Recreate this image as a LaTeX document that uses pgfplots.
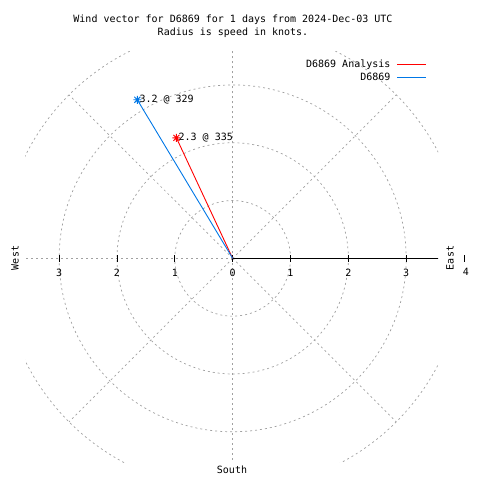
\documentclass[border=0pt]{standalone}
\usepackage{fontspec}
\setmainfont{DejaVu Sans Mono}
\usepackage{pgfplots}
\pgfplotsset{compat=1.18}
\definecolor{vred}{RGB}{255,0,0}
\definecolor{vblue}{RGB}{0,119,230}
\definecolor{grd}{RGB}{160,160,160}
\pgfdeclareplotmark{gstar}{%
  \pgfpathmoveto{\pgfqpoint{-\pgfplotmarksize}{0pt}}\pgfpathlineto{\pgfqpoint{\pgfplotmarksize}{0pt}}%
  \pgfpathmoveto{\pgfqpoint{0pt}{-\pgfplotmarksize}}\pgfpathlineto{\pgfqpoint{0pt}{\pgfplotmarksize}}%
  \pgfpathmoveto{\pgfqpoint{-0.75\pgfplotmarksize}{-0.75\pgfplotmarksize}}\pgfpathlineto{\pgfqpoint{0.75\pgfplotmarksize}{0.75\pgfplotmarksize}}%
  \pgfpathmoveto{\pgfqpoint{-0.75\pgfplotmarksize}{0.75\pgfplotmarksize}}\pgfpathlineto{\pgfqpoint{0.75\pgfplotmarksize}{-0.75\pgfplotmarksize}}%
  \pgfusepathqstroke}
\begin{document}
\fontsize{10bp}{12bp}\selectfont
\begin{tikzpicture}
\useasboundingbox (0bp,0bp) rectangle (480bp,480bp);
\node[inner sep=0] at (233bp,460bp) {Wind vector for D6869 for 1 days from 2024-Dec-03 UTC};
\node[inner sep=0] at (233bp,447bp) {Radius is speed in knots.};
\node[inner sep=0,rotate=90] at (450bp,222bp) {East};
\node[inner sep=0,rotate=90] at (15bp,222bp) {West};
\node[inner sep=0] at (232bp,10bp) {South};
\draw[line width=0.8bp] (464bp,218bp) -- (464bp,225bp);
\node[inner sep=0] at (466bp,208bp) {4};
\begin{axis}[
  at={(25bp,17bp)}, anchor=south west,
  scale only axis, width=413bp, height=411bp,
  xmin=-3.59, xmax=3.55, ymin=-3.54, ymax=3.57,
  axis lines=none, clip=true,
  legend plot pos=right,
  legend cell align=right,
  legend style={at={(rel axis cs:1,1)}, anchor=north east, xshift=-11bp, yshift=-6bp,
    draw=none, fill=none, inner sep=0pt, font=\fontsize{10bp}{12bp}\selectfont,
    column sep=5bp, row sep=1bp,
    nodes={inner sep=1.5bp}},
  legend image code/.code={\draw[#1] (0bp,0bp) -- (29bp,0bp);},
]
% grid
\pgfplotsinvokeforeach{1,2,3,4}{
  \draw[grd, line width=0.7bp, dash pattern=on 2bp off 3bp] (axis cs:0,0) circle[radius=#1];
}
\pgfplotsinvokeforeach{45,90,135,180,225,270,315}{
  \draw[grd, line width=0.7bp, dash pattern=on 2bp off 3bp] (axis cs:0,0) -- (axis cs:{4*cos(#1)},{4*sin(#1)});
}
\draw[black, line width=1bp] (axis cs:0,0) -- (axis cs:4,0);
\pgfplotsinvokeforeach{-3,-2,-1,0,1,2,3}{
  \draw[black, line width=0.8bp] (axis cs:#1,0) ++(0bp,-3.5bp) -- ++(0bp,7bp);
}
\node[inner sep=0] at (axis cs:-3,0) [yshift=-14bp] {3};
\node[inner sep=0] at (axis cs:-2,0) [yshift=-14bp] {2};
\node[inner sep=0] at (axis cs:-1,0) [yshift=-14bp] {1};
\node[inner sep=0] at (axis cs:0,0) [yshift=-14bp] {0};
\node[inner sep=0] at (axis cs:1,0) [yshift=-14bp] {1};
\node[inner sep=0] at (axis cs:2,0) [yshift=-14bp] {2};
\node[inner sep=0] at (axis cs:3,0) [yshift=-14bp] {3};
% vectors
\addplot[vred, line width=0.9bp, mark=gstar, mark size=4bp, mark indices={2}, mark options={solid}]
  coordinates {(0,0) (-0.972,2.084)};
\addplot[vblue, line width=0.9bp, mark=gstar, mark size=4bp, mark indices={2}, mark options={solid}]
  coordinates {(0,0) (-1.648,2.743)};
\legend{D6869 Analysis, D6869}
\node[anchor=west, inner sep=0, xshift=2bp] at (axis cs:-0.972,2.084) {2.3 @ 335};
\node[anchor=west, inner sep=0, xshift=2bp] at (axis cs:-1.648,2.743) {3.2 @ 329};
\end{axis}
\end{tikzpicture}
\end{document}
